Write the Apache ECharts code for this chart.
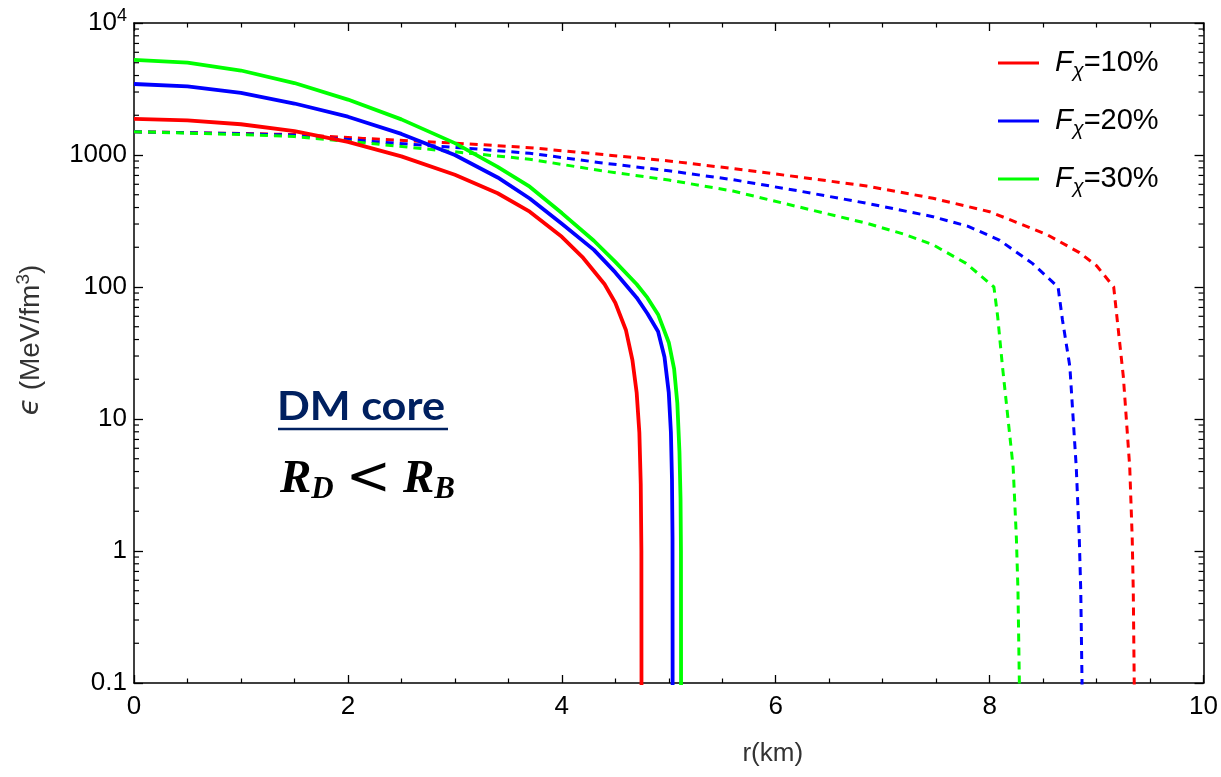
<!DOCTYPE html>
<html><head><meta charset="utf-8">
<script src="https://cdn.jsdelivr.net/npm/echarts@6/dist/echarts.min.js"></script>
<style>html,body{margin:0;padding:0;background:#fff}#c{width:1221px;height:777px}</style>
</head><body><div id="c"></div>
<script>
// ---- data (r in km, epsilon in MeV/fm^3) ----
const xTickLabels = ['0','2','4','6','8','10'];
const yTickLabels = ['0.1','1','10','100','1000','{b|10}{sup|4}'];
const yMinorTicks = [0.2,0.3,0.4,0.5,0.6,0.7,0.8,0.9,2,3,4,5,6,7,8,9,20,30,40,50,60,70,80,90,200,300,400,500,600,700,800,900,2000,3000,4000,5000,6000,7000,8000,9000];
const seriesNames = ['10%','20%','30%'];
const seriesColors = ['#ff0000','#0000ff','#00ff00'];

// DM (solid) profiles
const dm10 = [[0,1875],[0.5,1828],[1.0,1710],[1.5,1514],[2.0,1259],[2.5,977],[3.0,708],[3.4,513],[3.7,372],[4.0,240],[4.2,166],[4.4,105],[4.5,76],[4.6,47],[4.66,28],[4.7,15.8],[4.725,7.9],[4.738,3.2],[4.744,1],[4.746,0.01]];
const dm20 = [[0,3450],[0.5,3311],[1.0,2951],[1.5,2455],[2.0,1950],[2.5,1445],[3.0,1000],[3.4,676],[3.7,468],[4.0,302],[4.3,191],[4.5,129],[4.7,83],[4.8,63],[4.9,46],[4.96,29.5],[5.0,15.8],[5.02,7.9],[5.03,3.5],[5.035,1.26],[5.037,0.01]];
const dm30 = [[0,5248],[0.5,5012],[1.0,4365],[1.5,3508],[2.0,2630],[2.5,1862],[3.0,1230],[3.4,813],[3.7,575],[4.0,363],[4.3,224],[4.5,155],[4.7,105],[4.8,83],[4.9,62],[5.0,38],[5.05,24],[5.08,13.2],[5.1,5.6],[5.11,2.5],[5.114,1],[5.116,0.01]];
// baryonic (dashed) profiles
const bm10 = [[0,1500],[1,1455],[1.5,1429],[2.14,1336],[3.0,1230],[3.7,1137],[4.36,1012],[5.0,902],[5.6,789],[6.2,684],[6.85,582],[7.47,470],[8.0,372],[8.25,309],[8.53,251],[8.84,182],[9.0,145],[9.16,100],[9.2,50],[9.25,21],[9.31,4.3],[9.333,1.26],[9.343,0.5],[9.352,0.1],[9.36,0.01]];
const bm20 = [[0,1500],[1,1449],[1.5,1413],[2.14,1282],[3.0,1143],[3.7,1031],[4.36,875],[5.0,759],[5.6,650],[6.2,537],[6.85,431],[7.47,341],[7.8,288],[8.09,227],[8.4,151],[8.64,100],[8.68,57],[8.75,25],[8.81,4.3],[8.838,1.26],[8.852,0.5],[8.864,0.1],[8.872,0.01]];
const bm30 = [[0,1500],[1,1429],[1.5,1380],[2.14,1239],[3.0,1057],[3.7,929],[4.36,762],[5.0,646],[5.6,533],[6.2,407],[6.85,304],[7.2,251],[7.47,209],[7.78,151],[8.04,100],[8.075,60],[8.12,25],[8.22,4.3],[8.25,1.26],[8.265,0.5],[8.278,0.1],[8.285,0.01]];

const dmSets = [dm10, dm20, dm30];
const bmSets = [bm10, bm20, bm30];

const chart = echarts.init(document.getElementById('c'), null, {renderer: 'canvas'});
const FONT = 'Liberation Sans, Arial, sans-serif';

function xAxisCfg(pos, showLabel) {
  return {
    type: 'value', position: pos, min: 0, max: 10, interval: 2,
    axisLine: {show: true, onZero: false, lineStyle: {color: '#000', width: 1.5}},
    axisTick: {show: true, inside: true, length: 8, lineStyle: {color: '#000', width: 1.3}},
    minorTick: {show: true, splitNumber: 4, length: 4.5, lineStyle: {color: '#000', width: 1.2}},
    splitLine: {show: false}, minorSplitLine: {show: false},
    axisLabel: {show: showLabel, color: '#000', fontSize: 26, fontFamily: FONT, margin: 11,
      formatter: (v, i) => xTickLabels[i]},
    name: showLabel ? 'r(km)' : '', nameLocation: 'middle', nameGap: 58,
    nameTextStyle: {color: '#333', fontSize: 26, fontFamily: FONT, padding: [0, 0, 0, 208]}
  };
}
function yAxisCfg(pos, showLabel) {
  return {
    type: 'log', logBase: 10, position: pos, min: 0.1, max: 10000,
    axisLine: {show: true, onZero: false, lineStyle: {color: '#000', width: 1.5}},
    axisTick: {show: true, inside: true, length: 9, lineStyle: {color: '#000', width: 1.3}},
    minorTick: {show: false}, splitLine: {show: false},
    axisLabel: {show: showLabel, color: '#000', fontSize: 26, fontFamily: FONT, margin: 7,
      formatter: (v, i) => yTickLabels[i],
      rich: {b: {fontSize: 26, fontFamily: FONT, color: '#000'}, sup: {fontSize: 18, fontFamily: FONT, color: '#000', padding: [0, 0, 14, 0]}}},
    name: showLabel ? '{e|ϵ} (MeV/fm{s|3})' : '', nameLocation: 'middle', nameGap: 86, nameRotate: 90,
    nameTextStyle: {color: '#333', fontSize: 28, fontFamily: FONT, padding: [0, 0, 0, 26],
      rich: {e: {fontStyle: 'italic', fontSize: 28, fontFamily: 'DejaVu Sans', color: '#333'},
             s: {fontSize: 19, fontFamily: FONT, color: '#333', padding: [0, 0, 15, 0]}}}
  };
}

const series = [];
bmSets.forEach((d, i) => series.push({
  name: seriesNames[i] + ' B', type: 'line', data: d, symbol: 'none', smooth: false,
  lineStyle: {color: seriesColors[i], width: 3, type: [8, 6], join: 'round'}, itemStyle: {color: seriesColors[i]}, z: 3
}));
dmSets.forEach((d, i) => series.push({
  name: seriesNames[i], type: 'line', data: d, symbol: 'none', smooth: false,
  lineStyle: {color: seriesColors[i], width: 3.8, join: 'round'}, itemStyle: {color: seriesColors[i]}, z: 4
}));
// minor ticks of the log axes, placed through the axes' own scales
series.push({
  type: 'custom', silent: true, clip: false, z: 5, data: yMinorTicks.map(v => [v]),
  encode: {y: 0},
  renderItem: function (params, api) {
    const v = api.value(0);
    const pL = api.coord([0, v]);
    const pR = api.coord([10, v]);
    const st = {stroke: '#000', lineWidth: 1.2};
    return {type: 'group', children: [
      {type: 'line', shape: {x1: pL[0], y1: pL[1], x2: pL[0] + 5, y2: pL[1]}, style: st},
      {type: 'line', shape: {x1: pR[0], y1: pR[1], x2: pR[0] - 5, y2: pR[1]}, style: st}
    ]};
  }
});

chart.setOption({
  backgroundColor: '#fff',
  animation: false,
  grid: {left: 134, right: 17, top: 23, bottom: 94, containLabel: false},
  xAxis: [xAxisCfg('bottom', true), xAxisCfg('top', false)],
  yAxis: [yAxisCfg('left', true), yAxisCfg('right', false)],
  legend: {
    data: seriesNames, orient: 'vertical', left: 998, top: 45, padding: 0,
    icon: 'rect', itemWidth: 41, itemHeight: 3, itemGap: 22,
    formatter: n => '{f|F}{s|χ}{t|=' + n + '}',
    textStyle: {color: '#000', fontSize: 28, fontFamily: FONT, padding: [0, 0, 0, 11],
      rich: {f: {fontStyle: 'italic', fontSize: 29, fontFamily: FONT, color: '#000', lineHeight: 30},
             s: {fontStyle: 'italic', fontSize: 20, fontFamily: FONT, color: '#000', lineHeight: 30, padding: [16, 0, 0, 0]},
             t: {fontSize: 29, fontFamily: FONT, color: '#000', lineHeight: 30}}}
  },
  graphic: [
    {type: 'text', left: 277, top: 387, z: 10, scaleX: 1.08,
      style: {text: 'DM core', font: 'bold 40px Lato, sans-serif', fill: '#002060'}},
    {type: 'line', z: 10, shape: {x1: 278, y1: 429, x2: 448, y2: 429}, style: {stroke: '#002060', lineWidth: 2.5}},
    {type: 'text', left: 280, top: 453, z: 10,
      style: {text: '{r|R}{s|D}{o|<}{r|R}{s|B}',
        rich: {r: {font: 'bold italic 47px "Liberation Serif", serif', fill: '#000'},
               s: {font: 'bold italic 31px "Liberation Serif", serif', fill: '#000', padding: [19, 0, 0, 0]},
               o: {font: '54px "DejaVu Serif", serif', fill: '#000', padding: [0, 12, 0, 12]}}}}
  ],
  series: series
});
</script></body></html>
